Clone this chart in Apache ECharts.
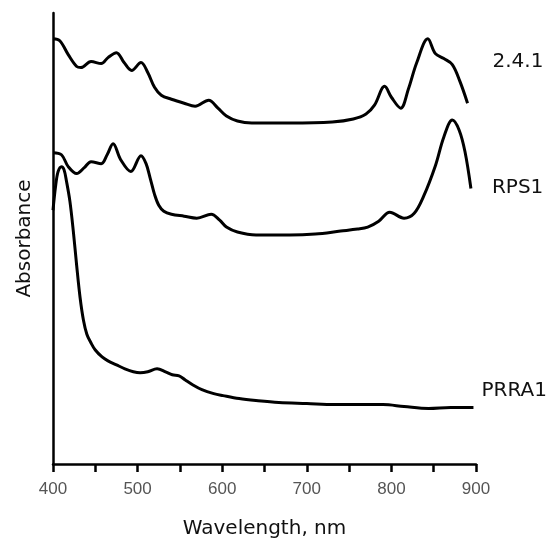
<!DOCTYPE html>
<html>
<head>
<meta charset="utf-8">
<script src="https://cdn.jsdelivr.net/npm/echarts@6/dist/echarts.min.js"></script>
<style>
  html, body { margin: 0; padding: 0; background: #fff; }
  #chart { width: 547px; height: 544px; }
</style>
</head>
<body>
<div id="chart"></div>
<script>
// absorbance in arbitrary units
const wl241 = [400, 408, 418, 428, 433, 445, 457, 465, 475, 484, 493, 504, 512, 520, 528, 540, 555, 568, 584, 595, 605, 618, 635, 680, 730, 755, 770, 780, 792, 800, 811, 820, 830, 843, 852, 862, 872, 881, 890];
const abs241 = [429, 427, 413, 401, 400, 406, 404, 410, 415, 405, 397, 405, 395, 380, 372, 368, 364, 361, 367, 359, 351, 346, 344, 344, 345, 348, 353, 362, 381, 370, 359, 378, 405, 429, 414, 409, 403, 386, 364];

const wlRPS1 = [400, 410, 418, 428, 437, 445, 457, 464, 471, 480, 492, 504, 510, 515, 520, 525, 531, 540, 555, 570, 587, 597, 605, 618, 640, 680, 710, 740, 760, 772, 785, 798, 815, 827, 838, 852, 862, 872, 880, 887, 894];
const absRPS1 = [314, 312, 300, 293, 299, 305, 303, 312, 323, 307, 295, 311, 303, 288, 272, 261, 255, 252, 250, 248, 252, 246, 239, 234, 231, 231, 232, 235, 237, 239, 245, 254, 248, 253, 270, 301, 330, 347, 337, 315, 278];

const wlPRRA1 = [400, 403, 406, 410, 413, 416, 420, 424, 428, 432, 436, 440, 445, 450, 458, 465, 475, 485, 495, 503, 512, 523, 533, 541, 549, 556, 565, 576, 590, 601, 620, 640, 667, 700, 733, 760, 790, 815, 844, 870, 897];
const absPRRA1 = [256, 280, 295, 300, 297, 285, 265, 235, 200, 168, 145, 131, 122, 115, 108, 104, 100, 96, 93, 92, 93, 96, 93, 90, 89, 85, 80, 75, 71, 69, 66, 64, 62, 61, 60, 60, 60, 58, 56, 57, 57];

const xTicks = [400, 500, 600, 700, 800, 900];

const chart = echarts.init(document.getElementById("chart"));

const pairs = (xs, ys) => xs.map((x, i) => [x, ys[i]]);

const makeSeries = (name, xs, ys, offset) => ({
  name,
  type: "line",
  smooth: 0.35,
  symbol: "none",
  lineStyle: { color: "#000", width: 3 },
  endLabel: {
    show: true,
    formatter: "{a}",
    offset,
    color: "#111",
    fontSize: 20,
    fontFamily: "DejaVu Sans",
  },
  data: pairs(xs, ys),
});

chart.setOption({
  animation: false,
  grid: { left: 53, top: 13, right: 71, bottom: 76 },
  xAxis: {
    type: "value",
    min: 400,
    max: 900,
    interval: 50,
    name: "Wavelength, nm",
    nameLocation: "middle",
    nameGap: 55,
    nameTextStyle: { color: "#111", fontSize: 20, fontFamily: "DejaVu Sans" },
    axisLine: { lineStyle: { color: "#000", width: 2.5 } },
    axisTick: { length: 8, lineStyle: { color: "#000", width: 2.5 } },
    axisLabel: {
      margin: 17,
      color: "#555",
      fontSize: 17,
      fontFamily: "Liberation Sans",
      formatter: (v) => (xTicks.includes(v) ? String(v) : ""),
    },
    splitLine: { show: false },
  },
  yAxis: {
    type: "value",
    min: 0,
    max: 455,
    name: "Absorbance",
    nameLocation: "middle",
    nameGap: 18,
    nameTextStyle: { color: "#111", fontSize: 20, fontFamily: "DejaVu Sans" },
    axisLine: { show: true, lineStyle: { color: "#000", width: 2.5 } },
    axisTick: { show: false },
    axisLabel: { show: false },
    splitLine: { show: false },
  },
  series: [
    makeSeries("2.4.1", wl241, abs241, [17, -41]),
    makeSeries("RPS1", wlRPS1, absRPS1, [13, -1]),
    makeSeries("PRRA1", wlPRRA1, absPRRA1, [0, -17]),
  ],
});
</script>
</body>
</html>
